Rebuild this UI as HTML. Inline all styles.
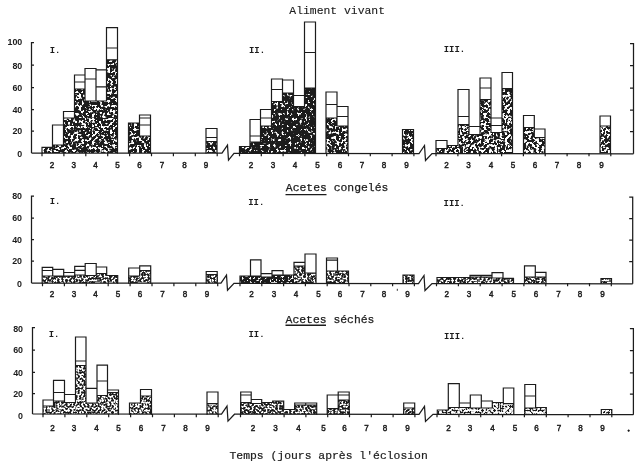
<!DOCTYPE html>
<html lang="fr"><head><meta charset="utf-8"><title>Figure</title>
<style>
html,body{margin:0;padding:0;background:#fff}
body{width:640px;height:467px;overflow:hidden}
svg{display:block}
</style></head><body>
<svg width="640" height="467" viewBox="0 0 640 467">
<defs>
<filter id="f14" filterUnits="userSpaceOnUse" x="0" y="0" width="640" height="467" color-interpolation-filters="sRGB">
<feTurbulence type="fractalNoise" baseFrequency="0.38" numOctaves="2" seed="4"/>
<feColorMatrix type="matrix" values="0 0 0 0 1 0 0 0 0 1 0 0 0 0 1 12 0 0 0 -7.05"/>
<feComposite in2="SourceGraphic" operator="in"/>
</filter>
<filter id="f22" filterUnits="userSpaceOnUse" x="0" y="0" width="640" height="467" color-interpolation-filters="sRGB">
<feTurbulence type="fractalNoise" baseFrequency="0.5" numOctaves="2" seed="5"/>
<feColorMatrix type="matrix" values="0 0 0 0 1 0 0 0 0 1 0 0 0 0 1 12 0 0 0 -6.6"/>
<feComposite in2="SourceGraphic" operator="in"/>
</filter>
<filter id="f30" filterUnits="userSpaceOnUse" x="0" y="0" width="640" height="467" color-interpolation-filters="sRGB">
<feTurbulence type="fractalNoise" baseFrequency="0.38" numOctaves="2" seed="6"/>
<feColorMatrix type="matrix" values="0 0 0 0 1 0 0 0 0 1 0 0 0 0 1 12 0 0 0 -6.3"/>
<feComposite in2="SourceGraphic" operator="in"/>
</filter>
<filter id="f33" filterUnits="userSpaceOnUse" x="0" y="0" width="640" height="467" color-interpolation-filters="sRGB">
<feTurbulence type="fractalNoise" baseFrequency="0.38" numOctaves="2" seed="7"/>
<feColorMatrix type="matrix" values="0 0 0 0 1 0 0 0 0 1 0 0 0 0 1 12 0 0 0 -6.15"/>
<feComposite in2="SourceGraphic" operator="in"/>
</filter>
<filter id="f40" filterUnits="userSpaceOnUse" x="0" y="0" width="640" height="467" color-interpolation-filters="sRGB">
<feTurbulence type="fractalNoise" baseFrequency="0.38" numOctaves="2" seed="8"/>
<feColorMatrix type="matrix" values="0 0 0 0 1 0 0 0 0 1 0 0 0 0 1 12 0 0 0 -5.9"/>
<feComposite in2="SourceGraphic" operator="in"/>
</filter>
<filter id="f45" filterUnits="userSpaceOnUse" x="0" y="0" width="640" height="467" color-interpolation-filters="sRGB">
<feTurbulence type="fractalNoise" baseFrequency="0.5" numOctaves="2" seed="9"/>
<feColorMatrix type="matrix" values="0 0 0 0 1 0 0 0 0 1 0 0 0 0 1 12 0 0 0 -5.7"/>
<feComposite in2="SourceGraphic" operator="in"/>
</filter>
<filter id="f50" filterUnits="userSpaceOnUse" x="0" y="0" width="640" height="467" color-interpolation-filters="sRGB">
<feTurbulence type="fractalNoise" baseFrequency="0.5" numOctaves="2" seed="10"/>
<feColorMatrix type="matrix" values="0 0 0 0 1 0 0 0 0 1 0 0 0 0 1 12 0 0 0 -5.52"/>
<feComposite in2="SourceGraphic" operator="in"/>
</filter>
<filter id="f60" filterUnits="userSpaceOnUse" x="0" y="0" width="640" height="467" color-interpolation-filters="sRGB">
<feTurbulence type="fractalNoise" baseFrequency="0.5" numOctaves="2" seed="11"/>
<feColorMatrix type="matrix" values="0 0 0 0 1 0 0 0 0 1 0 0 0 0 1 12 0 0 0 -5.2"/>
<feComposite in2="SourceGraphic" operator="in"/>
</filter>

<filter id="soft" filterUnits="userSpaceOnUse" x="0" y="0" width="640" height="467" color-interpolation-filters="sRGB"><feGaussianBlur stdDeviation="0.45"/></filter>
</defs>
<rect width="640" height="467" fill="#fff"/>
<g filter="url(#soft)">
<g fill="#1c1c1c"><rect x="42" y="147.3" width="11" height="5.7"/><rect x="52" y="145.0" width="12" height="8.0"/><rect x="63" y="118.0" width="12" height="35.0"/><rect x="74" y="89.0" width="11" height="64.0"/><rect x="85" y="101.0" width="11" height="52.0"/><rect x="96" y="101.0" width="11" height="52.0"/><rect x="106" y="59.8" width="12" height="93.2"/><rect x="128" y="123.0" width="12" height="30.0"/><rect x="139" y="136.0" width="12" height="17.0"/><rect x="206" y="141.5" width="11" height="11.5"/><rect x="326" y="118.0" width="11" height="35.0"/><rect x="337" y="126.0" width="11" height="27.0"/><rect x="402" y="129.5" width="12" height="23.5"/><rect x="239" y="146.5" width="11" height="6.5"/><rect x="250" y="142.0" width="11" height="11.0"/><rect x="260" y="126.0" width="12" height="27.0"/><rect x="271" y="101.5" width="12" height="51.5"/><rect x="282" y="93.0" width="12" height="60.0"/><rect x="293" y="106.5" width="12" height="46.5"/><rect x="304" y="88.0" width="12" height="65.0"/><rect x="436" y="148.5" width="11" height="4.5"/><rect x="447" y="145.5" width="11" height="7.5"/><rect x="458" y="124.5" width="11" height="28.5"/><rect x="469" y="134.5" width="11" height="18.5"/><rect x="480" y="99.5" width="11" height="53.5"/><rect x="491" y="132.5" width="11" height="20.5"/><rect x="502" y="88.5" width="11" height="64.5"/><rect x="523" y="127.5" width="12" height="25.5"/><rect x="534" y="137.5" width="11" height="15.5"/><rect x="600" y="126.0" width="11" height="27.0"/></g>
<g fill="#fff" filter="url(#f30)"><rect x="42" y="147.3" width="11" height="5.7"/><rect x="52" y="145.0" width="12" height="8.0"/><rect x="63" y="118.0" width="12" height="35.0"/><rect x="74" y="89.0" width="11" height="64.0"/><rect x="85" y="101.0" width="11" height="52.0"/><rect x="96" y="101.0" width="11" height="52.0"/><rect x="106" y="59.8" width="12" height="93.2"/><rect x="128" y="123.0" width="12" height="30.0"/><rect x="139" y="136.0" width="12" height="17.0"/><rect x="206" y="141.5" width="11" height="11.5"/><rect x="326" y="118.0" width="11" height="35.0"/><rect x="337" y="126.0" width="11" height="27.0"/><rect x="402" y="129.5" width="12" height="23.5"/></g>
<g fill="#fff" filter="url(#f14)"><rect x="239" y="146.5" width="11" height="6.5"/><rect x="250" y="142.0" width="11" height="11.0"/><rect x="260" y="126.0" width="12" height="27.0"/><rect x="271" y="101.5" width="12" height="51.5"/><rect x="282" y="93.0" width="12" height="60.0"/><rect x="293" y="106.5" width="12" height="46.5"/><rect x="304" y="88.0" width="12" height="65.0"/></g>
<g fill="#fff" filter="url(#f40)"><rect x="436" y="148.5" width="11" height="4.5"/><rect x="447" y="145.5" width="11" height="7.5"/><rect x="458" y="124.5" width="11" height="28.5"/><rect x="469" y="134.5" width="11" height="18.5"/><rect x="480" y="99.5" width="11" height="53.5"/><rect x="491" y="132.5" width="11" height="20.5"/><rect x="502" y="88.5" width="11" height="64.5"/><rect x="523" y="127.5" width="12" height="25.5"/><rect x="534" y="137.5" width="11" height="15.5"/><rect x="600" y="126.0" width="11" height="27.0"/></g>
<path d="M42.0 147.3H52.5M42.0 147.3V153M52.5 125.0H63.5M52.5 145.0H63.5M52.5 125.0V147.3M63.5 111.5H74.5M63.5 118.0H74.5M63.5 111.5V145.0M74.5 75.0H85.0M74.5 89.0H85.0M74.5 82.0H85.0M74.5 75.0V118.0M85.0 68.5H96.0M85.0 101.0H96.0M85.0 79.0H96.0M85.0 68.5V101.0M96.0 69.8H106.5M96.0 101.0H106.5M96.0 86.8H106.5M96.0 68.5V101.0M106.5 27.7H117.5M106.5 59.8H117.5M106.5 48.0H117.5M106.5 27.7V101.0M117.5 27.7V153M128.5 123.0H139.5M128.5 123.0V153M139.5 115.0H150.5M139.5 136.0H150.5M139.5 125.0H150.5M139.5 118.0H150.5M139.5 115.0V136.0M150.5 115.0V153M206.0 128.5H217.0M206.0 141.5H217.0M206.0 137.5H217.0M206.0 128.5V153M217.0 128.5V153M239.5 146.5H250.0M239.5 146.5V153M250.0 119.5H260.5M250.0 142.0H260.5M250.0 136.0H260.5M250.0 119.5V146.5M260.5 109.5H271.5M260.5 126.0H271.5M260.5 118.0H271.5M260.5 109.5V142.0M271.5 79.0H282.5M271.5 101.5H282.5M271.5 89.5H282.5M271.5 79.0V126.0M282.5 80.0H293.5M282.5 93.0H293.5M282.5 79.0V101.5M293.5 95.5H304.5M293.5 106.5H304.5M293.5 80.0V106.5M304.5 22.0H315.5M304.5 88.0H315.5M304.5 52.5H315.5M304.5 22.0V106.5M315.5 22.0V153M326.0 92.0H337.0M326.0 118.0H337.0M326.0 104.5H337.0M326.0 92.0V153M337.0 106.5H348.0M337.0 126.0H348.0M337.0 116.5H348.0M337.0 92.0V126.0M348.0 106.5V153M402.5 129.5H413.5M402.5 129.5V153M413.5 129.5V153M436.0 140.5H447.0M436.0 148.5H447.0M436.0 140.5V153M447.0 145.5H458.0M447.0 140.5V148.5M458.0 89.5H469.0M458.0 124.5H469.0M458.0 116.5H469.0M458.0 89.5V145.5M469.0 126.5H480.0M469.0 134.5H480.0M469.0 89.5V134.5M480.0 78.0H491.0M480.0 99.5H491.0M480.0 88.0H491.0M480.0 78.0V134.5M491.0 118.0H502.0M491.0 132.5H502.0M491.0 125.5H502.0M491.0 78.0V132.5M502.0 72.5H512.5M502.0 88.5H512.5M502.0 72.5V132.5M512.5 72.5V153M523.5 115.5H534.3M523.5 127.5H534.3M523.5 115.5V153M534.3 129.0H545.0M534.3 137.5H545.0M534.3 115.5V137.5M545.0 129.0V153M600.0 116.0H610.5M600.0 126.0H610.5M600.0 116.0V153M610.5 116.0V153" fill="none" stroke="#1c1c1c" stroke-width="1.2" stroke-linecap="square"/>
<g fill="#1c1c1c"><rect x="42" y="276.0" width="11" height="7.2"/><rect x="52" y="276.0" width="12" height="7.2"/><rect x="63" y="276.0" width="12" height="7.2"/><rect x="74" y="275.0" width="12" height="8.2"/><rect x="85" y="275.5" width="12" height="7.7"/><rect x="96" y="273.5" width="11" height="9.7"/><rect x="106" y="275.5" width="12" height="7.7"/><rect x="128" y="276.0" width="12" height="7.2"/><rect x="139" y="270.5" width="12" height="12.7"/><rect x="206" y="274.5" width="12" height="8.7"/><rect x="294" y="266.0" width="11" height="17.2"/><rect x="305" y="273.0" width="11" height="10.2"/><rect x="326" y="271.0" width="12" height="12.2"/><rect x="337" y="271.0" width="12" height="12.2"/><rect x="403" y="275.0" width="11" height="8.2"/><rect x="437" y="277.5" width="11" height="5.7"/><rect x="448" y="277.5" width="11" height="5.7"/><rect x="459" y="277.5" width="11" height="5.7"/><rect x="470" y="277.0" width="11" height="6.2"/><rect x="481" y="277.0" width="11" height="6.2"/><rect x="492" y="278.0" width="11" height="5.2"/><rect x="503" y="278.4" width="11" height="4.8"/><rect x="524" y="277.0" width="12" height="6.2"/><rect x="535" y="277.0" width="11" height="6.2"/><rect x="601" y="278.5" width="11" height="4.7"/><rect x="240" y="276.0" width="11" height="7.2"/><rect x="250" y="276.0" width="11" height="7.2"/><rect x="261" y="277.0" width="11" height="6.2"/><rect x="272" y="275.0" width="11" height="8.2"/><rect x="283" y="275.0" width="11" height="8.2"/></g>
<g fill="#fff" filter="url(#f45)"><rect x="42" y="276.0" width="11" height="7.2"/><rect x="52" y="276.0" width="12" height="7.2"/><rect x="63" y="276.0" width="12" height="7.2"/><rect x="74" y="275.0" width="12" height="8.2"/><rect x="85" y="275.5" width="12" height="7.7"/><rect x="96" y="273.5" width="11" height="9.7"/><rect x="106" y="275.5" width="12" height="7.7"/><rect x="128" y="276.0" width="12" height="7.2"/><rect x="139" y="270.5" width="12" height="12.7"/><rect x="206" y="274.5" width="12" height="8.7"/><rect x="294" y="266.0" width="11" height="17.2"/><rect x="305" y="273.0" width="11" height="10.2"/><rect x="326" y="271.0" width="12" height="12.2"/><rect x="337" y="271.0" width="12" height="12.2"/><rect x="403" y="275.0" width="11" height="8.2"/><rect x="437" y="277.5" width="11" height="5.7"/><rect x="448" y="277.5" width="11" height="5.7"/><rect x="459" y="277.5" width="11" height="5.7"/><rect x="470" y="277.0" width="11" height="6.2"/><rect x="481" y="277.0" width="11" height="6.2"/><rect x="492" y="278.0" width="11" height="5.2"/><rect x="503" y="278.4" width="11" height="4.8"/><rect x="524" y="277.0" width="12" height="6.2"/><rect x="535" y="277.0" width="11" height="6.2"/><rect x="601" y="278.5" width="11" height="4.7"/></g>
<g fill="#fff" filter="url(#f22)"><rect x="240" y="276.0" width="11" height="7.2"/><rect x="250" y="276.0" width="11" height="7.2"/><rect x="261" y="277.0" width="11" height="6.2"/><rect x="272" y="275.0" width="11" height="8.2"/><rect x="283" y="275.0" width="11" height="8.2"/></g>
<path d="M42.2 267.3H52.7M42.2 276.0H52.7M42.2 270.5H52.7M42.2 267.3V283.2M52.7 269.3H63.7M52.7 276.0H63.7M52.7 267.3V276.0M63.7 272.5H74.7M63.7 276.0H74.7M63.7 269.3V276.0M74.7 266.3H85.2M74.7 275.0H85.2M74.7 270.3H85.2M74.7 266.3V276.0M85.2 263.5H96.2M85.2 275.5H96.2M85.2 263.5V275.5M96.2 267.0H106.7M96.2 273.5H106.7M96.2 263.5V275.5M106.7 275.5H117.7M106.7 267.0V275.5M117.7 275.5V283.2M128.7 268.0H139.7M128.7 276.0H139.7M128.7 268.0V283.2M139.7 265.8H150.7M139.7 270.5H150.7M139.7 265.8V276.0M150.7 265.8V283.2M206.2 271.5H217.2M206.2 274.5H217.2M206.2 271.5V283.2M217.2 271.5V283.2M240.0 276.0H250.5M240.0 276.0V283.2M250.5 259.8H261.0M250.5 276.0H261.0M250.5 259.8V276.0M261.0 273.7H272.0M261.0 277.0H272.0M261.0 259.8V277.0M272.0 270.7H283.0M272.0 275.0H283.0M272.0 270.7V277.0M283.0 275.0H294.0M283.0 270.7V275.0M294.0 262.3H305.0M294.0 266.0H305.0M294.0 262.3V275.0M305.0 254.0H316.0M305.0 273.0H316.0M305.0 254.0V273.0M316.0 254.0V283.2M326.5 258.0H337.5M326.5 271.0H337.5M326.5 260.2H337.5M326.5 258.0V283.2M337.5 271.0H348.5M337.5 258.0V271.0M348.5 271.0V283.2M403.0 275.0H414.0M403.0 275.0V283.2M414.0 275.0V283.2M437.0 277.5H448.0M437.0 277.5V283.2M448.0 277.5H459.0M448.0 277.5V277.5M459.0 277.5H470.0M459.0 277.5V277.5M470.0 275.4H481.0M470.0 277.0H481.0M470.0 275.4V277.5M481.0 275.4H492.0M481.0 277.0H492.0M481.0 275.4V277.0M492.0 272.7H503.0M492.0 278.0H503.0M492.0 272.7V278.0M503.0 278.4H513.5M503.0 272.7V278.4M513.5 278.4V283.2M524.5 265.8H535.3M524.5 277.0H535.3M524.5 265.8V283.2M535.3 272.3H546.0M535.3 277.0H546.0M535.3 265.8V277.0M546.0 272.3V283.2M601.0 278.5H611.5M601.0 278.5V283.2M611.5 278.5V283.2" fill="none" stroke="#1c1c1c" stroke-width="1.2" stroke-linecap="square"/>
<g fill="#1c1c1c"><rect x="43" y="406.0" width="11" height="8.2"/><rect x="53" y="401.0" width="12" height="13.2"/><rect x="64" y="402.5" width="12" height="11.7"/><rect x="75" y="365.5" width="11" height="48.7"/><rect x="86" y="403.0" width="11" height="11.2"/><rect x="97" y="395.5" width="11" height="18.7"/><rect x="107" y="392.5" width="12" height="21.7"/><rect x="129" y="403.0" width="12" height="11.2"/><rect x="140" y="396.0" width="12" height="18.2"/><rect x="207" y="403.7" width="11" height="10.5"/><rect x="240" y="402.5" width="12" height="11.7"/><rect x="251" y="403.5" width="11" height="10.7"/><rect x="261" y="402.5" width="12" height="11.7"/><rect x="272" y="401.0" width="12" height="13.2"/><rect x="283" y="409.5" width="12" height="4.7"/><rect x="294" y="405.0" width="12" height="9.2"/><rect x="305" y="405.0" width="12" height="9.2"/><rect x="327" y="408.7" width="12" height="5.5"/><rect x="338" y="400.0" width="12" height="14.2"/><rect x="403" y="408.0" width="12" height="6.2"/><rect x="437" y="410.0" width="12" height="4.2"/><rect x="448" y="407.5" width="12" height="6.7"/><rect x="459" y="407.5" width="12" height="6.7"/><rect x="470" y="408.0" width="12" height="6.2"/><rect x="481" y="408.0" width="12" height="6.2"/><rect x="492" y="402.5" width="12" height="11.7"/><rect x="503" y="403.7" width="11" height="10.5"/><rect x="524" y="408.0" width="12" height="6.2"/><rect x="535" y="407.5" width="12" height="6.7"/><rect x="601" y="409.5" width="11" height="4.7"/></g>
<g fill="#fff" filter="url(#f50)"><rect x="43" y="406.0" width="11" height="8.2"/><rect x="53" y="401.0" width="12" height="13.2"/><rect x="64" y="402.5" width="12" height="11.7"/><rect x="75" y="365.5" width="11" height="48.7"/><rect x="86" y="403.0" width="11" height="11.2"/><rect x="97" y="395.5" width="11" height="18.7"/><rect x="107" y="392.5" width="12" height="21.7"/><rect x="129" y="403.0" width="12" height="11.2"/><rect x="140" y="396.0" width="12" height="18.2"/><rect x="207" y="403.7" width="11" height="10.5"/></g>
<g fill="#fff" filter="url(#f45)"><rect x="240" y="402.5" width="12" height="11.7"/><rect x="251" y="403.5" width="11" height="10.7"/><rect x="261" y="402.5" width="12" height="11.7"/><rect x="272" y="401.0" width="12" height="13.2"/><rect x="283" y="409.5" width="12" height="4.7"/><rect x="294" y="405.0" width="12" height="9.2"/><rect x="305" y="405.0" width="12" height="9.2"/><rect x="327" y="408.7" width="12" height="5.5"/><rect x="338" y="400.0" width="12" height="14.2"/><rect x="403" y="408.0" width="12" height="6.2"/></g>
<g fill="#fff" filter="url(#f60)"><rect x="437" y="410.0" width="12" height="4.2"/><rect x="448" y="407.5" width="12" height="6.7"/><rect x="459" y="407.5" width="12" height="6.7"/><rect x="470" y="408.0" width="12" height="6.2"/><rect x="481" y="408.0" width="12" height="6.2"/><rect x="492" y="402.5" width="12" height="11.7"/><rect x="503" y="403.7" width="11" height="10.5"/><rect x="524" y="408.0" width="12" height="6.2"/><rect x="535" y="407.5" width="12" height="6.7"/><rect x="601" y="409.5" width="11" height="4.7"/></g>
<path d="M43.0 400.0H53.5M43.0 406.0H53.5M43.0 400.0V414.2M53.5 380.3H64.5M53.5 401.0H64.5M53.5 392.5H64.5M53.5 380.3V406.0M64.5 394.5H75.5M64.5 402.5H75.5M64.5 380.3V402.5M75.5 337.0H86.0M75.5 365.5H86.0M75.5 361.0H86.0M75.5 337.0V402.5M86.0 388.3H97.0M86.0 403.0H97.0M86.0 337.0V403.0M97.0 365.2H107.5M97.0 395.5H107.5M97.0 381.0H107.5M97.0 365.2V403.0M107.5 390.0H118.5M107.5 392.5H118.5M107.5 365.2V395.5M118.5 390.0V414.2M129.5 403.0H140.5M129.5 403.0V414.2M140.5 389.5H151.5M140.5 396.0H151.5M140.5 389.5V403.0M151.5 389.5V414.2M207.0 392.0H218.0M207.0 403.7H218.0M207.0 392.0V414.2M218.0 392.0V414.2M240.7 392.0H251.2M240.7 402.5H251.2M240.7 395.0H251.2M240.7 392.0V414.2M251.2 399.5H261.7M251.2 403.5H261.7M251.2 392.0V403.5M261.7 402.5H272.7M261.7 399.5V403.5M272.7 401.0H283.7M272.7 401.0V402.5M283.7 409.5H294.7M283.7 401.0V409.5M294.7 403.0H305.7M294.7 405.0H305.7M294.7 403.0V409.5M305.7 403.0H316.7M305.7 405.0H316.7M305.7 403.0V405.0M316.7 403.0V414.2M327.2 395.0H338.2M327.2 408.7H338.2M327.2 395.0V414.2M338.2 392.0H349.2M338.2 400.0H349.2M338.2 395.0H349.2M338.2 392.0V408.7M349.2 392.0V414.2M403.7 403.0H414.7M403.7 408.0H414.7M403.7 403.0V414.2M414.7 403.0V414.2M437.3 410.0H448.3M437.3 410.0V414.2M448.3 383.7H459.3M448.3 407.5H459.3M448.3 383.7V410.0M459.3 403.0H470.3M459.3 407.5H470.3M459.3 383.7V407.5M470.3 395.0H481.3M470.3 408.0H481.3M470.3 395.0V408.0M481.3 401.0H492.3M481.3 408.0H492.3M481.3 395.0V408.0M492.3 402.5H503.3M492.3 401.0V408.0M503.3 388.0H513.8M503.3 403.7H513.8M503.3 388.0V403.7M513.8 388.0V414.2M524.8 384.5H535.6M524.8 408.0H535.6M524.8 396.0H535.6M524.8 384.5V414.2M535.6 407.5H546.3M535.6 384.5V408.0M546.3 407.5V414.2M601.3 409.5H611.8M601.3 409.5V414.2M611.8 409.5V414.2" fill="none" stroke="#1c1c1c" stroke-width="1.2" stroke-linecap="square"/>
<path fill="none" stroke="#1c1c1c" stroke-width="1.25" stroke-linejoin="miter" d="M34.0 42.5H31.5V153M31.5 65h2.5M31.5 87.5h2.5M31.5 109.5h2.5M31.5 131h2.5M630.0 43.5H633.5V153.8M633.5 65.5h-3.5M633.5 88.0h-3.5M633.5 110.0h-3.5M633.5 131.5h-3.5M31.5 153.0L222 153.2L227.5 145.2L228.5 160.2L234 153.3L238 153.3M238 153.3L419 153.5L424.5 145.5L425.5 160.5L432 153.5L436 153.5M436 153.5L633.5 153.8M34.0 196H31.5V283M31.5 218h2.5M31.5 239.5h2.5M31.5 261h2.5M629.2 197H632.7V283.8M632.7 218.5h-3.5M632.7 240.0h-3.5M632.7 261.5h-3.5M31.5 283.0L221 283.2L226.5 275.2L227.5 290.2L234 283.3L238 283.3M238 283.3L418.5 283.5L424.0 275.5L425.0 290.5L432 283.5L436 283.5M436 283.5L632.7 283.8M35.0 327.5H32.5V413.9M32.5 350h2.5M32.5 372.3h2.5M32.5 393.6h2.5M629.9 328.5H633.4V414.7M633.4 350.5h-3.5M633.4 372.8h-3.5M633.4 394.1h-3.5M32.5 413.9L221.5 414.1L227.0 406.1L228.0 421.1L234.5 414.2L238.5 414.2M238.5 414.2L419 414.4L424.5 406.4L425.5 421.4L433 414.4L437 414.4M437 414.4L633.4 414.7"/>
<path fill="none" stroke="#1c1c1c" stroke-width="1.2" d="M42.0 153v3.3M63.9 153v3.3M85.8 153v3.3M107.7 153v3.3M129.6 153v3.3M151.5 153v3.3M173.4 153v3.3M195.3 153v3.3M217.2 153v3.3M239.5 153v3.3M261.3 153v3.3M283.1 153v3.3M304.9 153v3.3M326.7 153v3.3M348.5 153v3.3M370.3 153v3.3M392.1 153v3.3M413.9 153v3.3M436.0 153v3.3M457.9 153v3.3M479.7 153v3.3M501.6 153v3.3M523.4 153v3.3M545.2 153v3.3M567.1 153v3.3M589.0 153v3.3M610.8 153v3.3M42.5 283v3.3M64.4 283v3.3M86.3 283v3.3M108.2 283v3.3M130.1 283v3.3M152.0 283v3.3M173.9 283v3.3M195.8 283v3.3M217.7 283v3.3M240.0 283v3.3M261.8 283v3.3M283.6 283v3.3M305.4 283v3.3M327.2 283v3.3M349.0 283v3.3M370.8 283v3.3M392.6 283v3.3M414.4 283v3.3M436.5 283v3.3M458.4 283v3.3M480.2 283v3.3M502.1 283v3.3M523.9 283v3.3M545.8 283v3.3M567.6 283v3.3M589.5 283v3.3M611.3 283v3.3M43.0 414v3.3M64.9 414v3.3M86.8 414v3.3M108.7 414v3.3M130.6 414v3.3M152.5 414v3.3M174.4 414v3.3M196.3 414v3.3M218.2 414v3.3M240.5 414v3.3M262.3 414v3.3M284.1 414v3.3M305.9 414v3.3M327.7 414v3.3M349.5 414v3.3M371.3 414v3.3M393.1 414v3.3M414.9 414v3.3M437.0 414v3.3M458.9 414v3.3M480.7 414v3.3M502.6 414v3.3M524.4 414v3.3M546.3 414v3.3M568.1 414v3.3M590.0 414v3.3M611.8 414v3.3"/>
<path d="M285.5 194.6H326.5M285.5 325.2H326" stroke="#1c1c1c" stroke-width="1.4" fill="none"/>
<text x="289.3" y="14.2" font-family="'Liberation Mono','DejaVu Sans Mono',monospace" font-size="11.4" text-anchor="start" fill="#1c1c1c" stroke="#1c1c1c" stroke-width="0.12">Aliment vivant</text>
<text x="285.8" y="191.3" font-family="'Liberation Mono','DejaVu Sans Mono',monospace" font-size="11.4" text-anchor="start" fill="#1c1c1c" stroke="#1c1c1c" stroke-width="0.25">Acetes congelés</text>
<text x="285.6" y="323" font-family="'Liberation Mono','DejaVu Sans Mono',monospace" font-size="11.4" text-anchor="start" fill="#1c1c1c" stroke="#1c1c1c" stroke-width="0.25">Acetes séchés</text>
<text x="229.5" y="459" font-family="'Liberation Mono','DejaVu Sans Mono',monospace" font-size="11.4" text-anchor="start" fill="#1c1c1c" stroke="#1c1c1c" stroke-width="0.2">Temps (jours après l'éclosion</text>
<text x="22.3" y="45.2" font-family="'Liberation Sans','DejaVu Sans',sans-serif" font-size="8.9" text-anchor="end" fill="#1c1c1c" font-weight="bold">100</text>
<text x="22.3" y="68.5" font-family="'Liberation Sans','DejaVu Sans',sans-serif" font-size="8.9" text-anchor="end" fill="#1c1c1c" font-weight="bold">80</text>
<text x="22.3" y="90.7" font-family="'Liberation Sans','DejaVu Sans',sans-serif" font-size="8.9" text-anchor="end" fill="#1c1c1c" font-weight="bold">60</text>
<text x="22.3" y="112.7" font-family="'Liberation Sans','DejaVu Sans',sans-serif" font-size="8.9" text-anchor="end" fill="#1c1c1c" font-weight="bold">40</text>
<text x="22.3" y="134.3" font-family="'Liberation Sans','DejaVu Sans',sans-serif" font-size="8.9" text-anchor="end" fill="#1c1c1c" font-weight="bold">20</text>
<text x="22.3" y="157" font-family="'Liberation Sans','DejaVu Sans',sans-serif" font-size="8.9" text-anchor="end" fill="#1c1c1c" font-weight="bold">0</text>
<text x="22" y="199.2" font-family="'Liberation Sans','DejaVu Sans',sans-serif" font-size="8.9" text-anchor="end" fill="#1c1c1c" font-weight="bold">80</text>
<text x="22" y="221.2" font-family="'Liberation Sans','DejaVu Sans',sans-serif" font-size="8.9" text-anchor="end" fill="#1c1c1c" font-weight="bold">60</text>
<text x="22" y="242.7" font-family="'Liberation Sans','DejaVu Sans',sans-serif" font-size="8.9" text-anchor="end" fill="#1c1c1c" font-weight="bold">40</text>
<text x="22" y="264.2" font-family="'Liberation Sans','DejaVu Sans',sans-serif" font-size="8.9" text-anchor="end" fill="#1c1c1c" font-weight="bold">20</text>
<text x="22" y="286.5" font-family="'Liberation Sans','DejaVu Sans',sans-serif" font-size="8.9" text-anchor="end" fill="#1c1c1c" font-weight="bold">0</text>
<text x="23" y="332" font-family="'Liberation Sans','DejaVu Sans',sans-serif" font-size="8.9" text-anchor="end" fill="#1c1c1c" font-weight="bold">80</text>
<text x="23" y="353.3" font-family="'Liberation Sans','DejaVu Sans',sans-serif" font-size="8.9" text-anchor="end" fill="#1c1c1c" font-weight="bold">60</text>
<text x="23" y="375.7" font-family="'Liberation Sans','DejaVu Sans',sans-serif" font-size="8.9" text-anchor="end" fill="#1c1c1c" font-weight="bold">40</text>
<text x="23" y="397" font-family="'Liberation Sans','DejaVu Sans',sans-serif" font-size="8.9" text-anchor="end" fill="#1c1c1c" font-weight="bold">20</text>
<text x="23" y="418.7" font-family="'Liberation Sans','DejaVu Sans',sans-serif" font-size="8.9" text-anchor="end" fill="#1c1c1c" font-weight="bold">0</text>
<text transform="translate(52 168.3) scale(0.86 1)" font-family="'Liberation Sans','DejaVu Sans',sans-serif" font-size="9.4" text-anchor="middle" fill="#1c1c1c" stroke="#1c1c1c" stroke-width="0.5">2</text>
<text transform="translate(73.7 168.3) scale(0.86 1)" font-family="'Liberation Sans','DejaVu Sans',sans-serif" font-size="9.4" text-anchor="middle" fill="#1c1c1c" stroke="#1c1c1c" stroke-width="0.5">3</text>
<text transform="translate(95.5 168.3) scale(0.86 1)" font-family="'Liberation Sans','DejaVu Sans',sans-serif" font-size="9.4" text-anchor="middle" fill="#1c1c1c" stroke="#1c1c1c" stroke-width="0.5">4</text>
<text transform="translate(117.4 168.3) scale(0.86 1)" font-family="'Liberation Sans','DejaVu Sans',sans-serif" font-size="9.4" text-anchor="middle" fill="#1c1c1c" stroke="#1c1c1c" stroke-width="0.5">5</text>
<text transform="translate(139.5 168.3) scale(0.86 1)" font-family="'Liberation Sans','DejaVu Sans',sans-serif" font-size="9.4" text-anchor="middle" fill="#1c1c1c" stroke="#1c1c1c" stroke-width="0.5">6</text>
<text transform="translate(162 168.3) scale(0.86 1)" font-family="'Liberation Sans','DejaVu Sans',sans-serif" font-size="9.4" text-anchor="middle" fill="#1c1c1c" stroke="#1c1c1c" stroke-width="0.5">7</text>
<text transform="translate(184.5 168.3) scale(0.86 1)" font-family="'Liberation Sans','DejaVu Sans',sans-serif" font-size="9.4" text-anchor="middle" fill="#1c1c1c" stroke="#1c1c1c" stroke-width="0.5">8</text>
<text transform="translate(206 168.3) scale(0.86 1)" font-family="'Liberation Sans','DejaVu Sans',sans-serif" font-size="9.4" text-anchor="middle" fill="#1c1c1c" stroke="#1c1c1c" stroke-width="0.5">9</text>
<text transform="translate(251 168.3) scale(0.86 1)" font-family="'Liberation Sans','DejaVu Sans',sans-serif" font-size="9.4" text-anchor="middle" fill="#1c1c1c" stroke="#1c1c1c" stroke-width="0.5">2</text>
<text transform="translate(273 168.3) scale(0.86 1)" font-family="'Liberation Sans','DejaVu Sans',sans-serif" font-size="9.4" text-anchor="middle" fill="#1c1c1c" stroke="#1c1c1c" stroke-width="0.5">3</text>
<text transform="translate(295 168.3) scale(0.86 1)" font-family="'Liberation Sans','DejaVu Sans',sans-serif" font-size="9.4" text-anchor="middle" fill="#1c1c1c" stroke="#1c1c1c" stroke-width="0.5">4</text>
<text transform="translate(317.5 168.3) scale(0.86 1)" font-family="'Liberation Sans','DejaVu Sans',sans-serif" font-size="9.4" text-anchor="middle" fill="#1c1c1c" stroke="#1c1c1c" stroke-width="0.5">5</text>
<text transform="translate(340 168.3) scale(0.86 1)" font-family="'Liberation Sans','DejaVu Sans',sans-serif" font-size="9.4" text-anchor="middle" fill="#1c1c1c" stroke="#1c1c1c" stroke-width="0.5">6</text>
<text transform="translate(362 168.3) scale(0.86 1)" font-family="'Liberation Sans','DejaVu Sans',sans-serif" font-size="9.4" text-anchor="middle" fill="#1c1c1c" stroke="#1c1c1c" stroke-width="0.5">7</text>
<text transform="translate(384 168.3) scale(0.86 1)" font-family="'Liberation Sans','DejaVu Sans',sans-serif" font-size="9.4" text-anchor="middle" fill="#1c1c1c" stroke="#1c1c1c" stroke-width="0.5">8</text>
<text transform="translate(406.5 168.3) scale(0.86 1)" font-family="'Liberation Sans','DejaVu Sans',sans-serif" font-size="9.4" text-anchor="middle" fill="#1c1c1c" stroke="#1c1c1c" stroke-width="0.5">9</text>
<text transform="translate(446.5 168.3) scale(0.86 1)" font-family="'Liberation Sans','DejaVu Sans',sans-serif" font-size="9.4" text-anchor="middle" fill="#1c1c1c" stroke="#1c1c1c" stroke-width="0.5">2</text>
<text transform="translate(468.5 168.3) scale(0.86 1)" font-family="'Liberation Sans','DejaVu Sans',sans-serif" font-size="9.4" text-anchor="middle" fill="#1c1c1c" stroke="#1c1c1c" stroke-width="0.5">3</text>
<text transform="translate(491 168.3) scale(0.86 1)" font-family="'Liberation Sans','DejaVu Sans',sans-serif" font-size="9.4" text-anchor="middle" fill="#1c1c1c" stroke="#1c1c1c" stroke-width="0.5">4</text>
<text transform="translate(513 168.3) scale(0.86 1)" font-family="'Liberation Sans','DejaVu Sans',sans-serif" font-size="9.4" text-anchor="middle" fill="#1c1c1c" stroke="#1c1c1c" stroke-width="0.5">5</text>
<text transform="translate(535 168.3) scale(0.86 1)" font-family="'Liberation Sans','DejaVu Sans',sans-serif" font-size="9.4" text-anchor="middle" fill="#1c1c1c" stroke="#1c1c1c" stroke-width="0.5">6</text>
<text transform="translate(557 168.3) scale(0.86 1)" font-family="'Liberation Sans','DejaVu Sans',sans-serif" font-size="9.4" text-anchor="middle" fill="#1c1c1c" stroke="#1c1c1c" stroke-width="0.5">7</text>
<text transform="translate(579 168.3) scale(0.86 1)" font-family="'Liberation Sans','DejaVu Sans',sans-serif" font-size="9.4" text-anchor="middle" fill="#1c1c1c" stroke="#1c1c1c" stroke-width="0.5">8</text>
<text transform="translate(601.5 168.3) scale(0.86 1)" font-family="'Liberation Sans','DejaVu Sans',sans-serif" font-size="9.4" text-anchor="middle" fill="#1c1c1c" stroke="#1c1c1c" stroke-width="0.5">9</text>
<text transform="translate(52 296.9) scale(0.86 1)" font-family="'Liberation Sans','DejaVu Sans',sans-serif" font-size="9.4" text-anchor="middle" fill="#1c1c1c" stroke="#1c1c1c" stroke-width="0.5">2</text>
<text transform="translate(74 296.9) scale(0.86 1)" font-family="'Liberation Sans','DejaVu Sans',sans-serif" font-size="9.4" text-anchor="middle" fill="#1c1c1c" stroke="#1c1c1c" stroke-width="0.5">3</text>
<text transform="translate(95.5 296.9) scale(0.86 1)" font-family="'Liberation Sans','DejaVu Sans',sans-serif" font-size="9.4" text-anchor="middle" fill="#1c1c1c" stroke="#1c1c1c" stroke-width="0.5">4</text>
<text transform="translate(118 296.9) scale(0.86 1)" font-family="'Liberation Sans','DejaVu Sans',sans-serif" font-size="9.4" text-anchor="middle" fill="#1c1c1c" stroke="#1c1c1c" stroke-width="0.5">5</text>
<text transform="translate(140 296.9) scale(0.86 1)" font-family="'Liberation Sans','DejaVu Sans',sans-serif" font-size="9.4" text-anchor="middle" fill="#1c1c1c" stroke="#1c1c1c" stroke-width="0.5">6</text>
<text transform="translate(162.5 296.9) scale(0.86 1)" font-family="'Liberation Sans','DejaVu Sans',sans-serif" font-size="9.4" text-anchor="middle" fill="#1c1c1c" stroke="#1c1c1c" stroke-width="0.5">7</text>
<text transform="translate(185 296.9) scale(0.86 1)" font-family="'Liberation Sans','DejaVu Sans',sans-serif" font-size="9.4" text-anchor="middle" fill="#1c1c1c" stroke="#1c1c1c" stroke-width="0.5">8</text>
<text transform="translate(207 296.9) scale(0.86 1)" font-family="'Liberation Sans','DejaVu Sans',sans-serif" font-size="9.4" text-anchor="middle" fill="#1c1c1c" stroke="#1c1c1c" stroke-width="0.5">9</text>
<text transform="translate(251.5 296.9) scale(0.86 1)" font-family="'Liberation Sans','DejaVu Sans',sans-serif" font-size="9.4" text-anchor="middle" fill="#1c1c1c" stroke="#1c1c1c" stroke-width="0.5">2</text>
<text transform="translate(274 296.9) scale(0.86 1)" font-family="'Liberation Sans','DejaVu Sans',sans-serif" font-size="9.4" text-anchor="middle" fill="#1c1c1c" stroke="#1c1c1c" stroke-width="0.5">3</text>
<text transform="translate(296 296.9) scale(0.86 1)" font-family="'Liberation Sans','DejaVu Sans',sans-serif" font-size="9.4" text-anchor="middle" fill="#1c1c1c" stroke="#1c1c1c" stroke-width="0.5">4</text>
<text transform="translate(318.5 296.9) scale(0.86 1)" font-family="'Liberation Sans','DejaVu Sans',sans-serif" font-size="9.4" text-anchor="middle" fill="#1c1c1c" stroke="#1c1c1c" stroke-width="0.5">5</text>
<text transform="translate(340 296.9) scale(0.86 1)" font-family="'Liberation Sans','DejaVu Sans',sans-serif" font-size="9.4" text-anchor="middle" fill="#1c1c1c" stroke="#1c1c1c" stroke-width="0.5">6</text>
<text transform="translate(362.5 296.9) scale(0.86 1)" font-family="'Liberation Sans','DejaVu Sans',sans-serif" font-size="9.4" text-anchor="middle" fill="#1c1c1c" stroke="#1c1c1c" stroke-width="0.5">7</text>
<text transform="translate(384 296.9) scale(0.86 1)" font-family="'Liberation Sans','DejaVu Sans',sans-serif" font-size="9.4" text-anchor="middle" fill="#1c1c1c" stroke="#1c1c1c" stroke-width="0.5">8</text>
<text transform="translate(407.5 296.9) scale(0.86 1)" font-family="'Liberation Sans','DejaVu Sans',sans-serif" font-size="9.4" text-anchor="middle" fill="#1c1c1c" stroke="#1c1c1c" stroke-width="0.5">9</text>
<text transform="translate(446.7 296.9) scale(0.86 1)" font-family="'Liberation Sans','DejaVu Sans',sans-serif" font-size="9.4" text-anchor="middle" fill="#1c1c1c" stroke="#1c1c1c" stroke-width="0.5">2</text>
<text transform="translate(469 296.9) scale(0.86 1)" font-family="'Liberation Sans','DejaVu Sans',sans-serif" font-size="9.4" text-anchor="middle" fill="#1c1c1c" stroke="#1c1c1c" stroke-width="0.5">3</text>
<text transform="translate(491.3 296.9) scale(0.86 1)" font-family="'Liberation Sans','DejaVu Sans',sans-serif" font-size="9.4" text-anchor="middle" fill="#1c1c1c" stroke="#1c1c1c" stroke-width="0.5">4</text>
<text transform="translate(513.7 296.9) scale(0.86 1)" font-family="'Liberation Sans','DejaVu Sans',sans-serif" font-size="9.4" text-anchor="middle" fill="#1c1c1c" stroke="#1c1c1c" stroke-width="0.5">5</text>
<text transform="translate(536 296.9) scale(0.86 1)" font-family="'Liberation Sans','DejaVu Sans',sans-serif" font-size="9.4" text-anchor="middle" fill="#1c1c1c" stroke="#1c1c1c" stroke-width="0.5">6</text>
<text transform="translate(558.5 296.9) scale(0.86 1)" font-family="'Liberation Sans','DejaVu Sans',sans-serif" font-size="9.4" text-anchor="middle" fill="#1c1c1c" stroke="#1c1c1c" stroke-width="0.5">7</text>
<text transform="translate(580 296.9) scale(0.86 1)" font-family="'Liberation Sans','DejaVu Sans',sans-serif" font-size="9.4" text-anchor="middle" fill="#1c1c1c" stroke="#1c1c1c" stroke-width="0.5">8</text>
<text transform="translate(602.5 296.9) scale(0.86 1)" font-family="'Liberation Sans','DejaVu Sans',sans-serif" font-size="9.4" text-anchor="middle" fill="#1c1c1c" stroke="#1c1c1c" stroke-width="0.5">9</text>
<text transform="translate(52.5 430.7) scale(0.86 1)" font-family="'Liberation Sans','DejaVu Sans',sans-serif" font-size="9.4" text-anchor="middle" fill="#1c1c1c" stroke="#1c1c1c" stroke-width="0.5">2</text>
<text transform="translate(74 430.7) scale(0.86 1)" font-family="'Liberation Sans','DejaVu Sans',sans-serif" font-size="9.4" text-anchor="middle" fill="#1c1c1c" stroke="#1c1c1c" stroke-width="0.5">3</text>
<text transform="translate(96.5 430.7) scale(0.86 1)" font-family="'Liberation Sans','DejaVu Sans',sans-serif" font-size="9.4" text-anchor="middle" fill="#1c1c1c" stroke="#1c1c1c" stroke-width="0.5">4</text>
<text transform="translate(118.5 430.7) scale(0.86 1)" font-family="'Liberation Sans','DejaVu Sans',sans-serif" font-size="9.4" text-anchor="middle" fill="#1c1c1c" stroke="#1c1c1c" stroke-width="0.5">5</text>
<text transform="translate(141 430.7) scale(0.86 1)" font-family="'Liberation Sans','DejaVu Sans',sans-serif" font-size="9.4" text-anchor="middle" fill="#1c1c1c" stroke="#1c1c1c" stroke-width="0.5">6</text>
<text transform="translate(163.5 430.7) scale(0.86 1)" font-family="'Liberation Sans','DejaVu Sans',sans-serif" font-size="9.4" text-anchor="middle" fill="#1c1c1c" stroke="#1c1c1c" stroke-width="0.5">7</text>
<text transform="translate(185.5 430.7) scale(0.86 1)" font-family="'Liberation Sans','DejaVu Sans',sans-serif" font-size="9.4" text-anchor="middle" fill="#1c1c1c" stroke="#1c1c1c" stroke-width="0.5">8</text>
<text transform="translate(207.5 430.7) scale(0.86 1)" font-family="'Liberation Sans','DejaVu Sans',sans-serif" font-size="9.4" text-anchor="middle" fill="#1c1c1c" stroke="#1c1c1c" stroke-width="0.5">9</text>
<text transform="translate(253 430.7) scale(0.86 1)" font-family="'Liberation Sans','DejaVu Sans',sans-serif" font-size="9.4" text-anchor="middle" fill="#1c1c1c" stroke="#1c1c1c" stroke-width="0.5">2</text>
<text transform="translate(275.5 430.7) scale(0.86 1)" font-family="'Liberation Sans','DejaVu Sans',sans-serif" font-size="9.4" text-anchor="middle" fill="#1c1c1c" stroke="#1c1c1c" stroke-width="0.5">3</text>
<text transform="translate(298.5 430.7) scale(0.86 1)" font-family="'Liberation Sans','DejaVu Sans',sans-serif" font-size="9.4" text-anchor="middle" fill="#1c1c1c" stroke="#1c1c1c" stroke-width="0.5">4</text>
<text transform="translate(323.5 430.7) scale(0.86 1)" font-family="'Liberation Sans','DejaVu Sans',sans-serif" font-size="9.4" text-anchor="middle" fill="#1c1c1c" stroke="#1c1c1c" stroke-width="0.5">5</text>
<text transform="translate(344.5 430.7) scale(0.86 1)" font-family="'Liberation Sans','DejaVu Sans',sans-serif" font-size="9.4" text-anchor="middle" fill="#1c1c1c" stroke="#1c1c1c" stroke-width="0.5">6</text>
<text transform="translate(366.5 430.7) scale(0.86 1)" font-family="'Liberation Sans','DejaVu Sans',sans-serif" font-size="9.4" text-anchor="middle" fill="#1c1c1c" stroke="#1c1c1c" stroke-width="0.5">7</text>
<text transform="translate(385 430.7) scale(0.86 1)" font-family="'Liberation Sans','DejaVu Sans',sans-serif" font-size="9.4" text-anchor="middle" fill="#1c1c1c" stroke="#1c1c1c" stroke-width="0.5">8</text>
<text transform="translate(407.5 430.7) scale(0.86 1)" font-family="'Liberation Sans','DejaVu Sans',sans-serif" font-size="9.4" text-anchor="middle" fill="#1c1c1c" stroke="#1c1c1c" stroke-width="0.5">9</text>
<text transform="translate(448.5 430.7) scale(0.86 1)" font-family="'Liberation Sans','DejaVu Sans',sans-serif" font-size="9.4" text-anchor="middle" fill="#1c1c1c" stroke="#1c1c1c" stroke-width="0.5">2</text>
<text transform="translate(470 430.7) scale(0.86 1)" font-family="'Liberation Sans','DejaVu Sans',sans-serif" font-size="9.4" text-anchor="middle" fill="#1c1c1c" stroke="#1c1c1c" stroke-width="0.5">3</text>
<text transform="translate(492.5 430.7) scale(0.86 1)" font-family="'Liberation Sans','DejaVu Sans',sans-serif" font-size="9.4" text-anchor="middle" fill="#1c1c1c" stroke="#1c1c1c" stroke-width="0.5">4</text>
<text transform="translate(515 430.7) scale(0.86 1)" font-family="'Liberation Sans','DejaVu Sans',sans-serif" font-size="9.4" text-anchor="middle" fill="#1c1c1c" stroke="#1c1c1c" stroke-width="0.5">5</text>
<text transform="translate(536.5 430.7) scale(0.86 1)" font-family="'Liberation Sans','DejaVu Sans',sans-serif" font-size="9.4" text-anchor="middle" fill="#1c1c1c" stroke="#1c1c1c" stroke-width="0.5">6</text>
<text transform="translate(559 430.7) scale(0.86 1)" font-family="'Liberation Sans','DejaVu Sans',sans-serif" font-size="9.4" text-anchor="middle" fill="#1c1c1c" stroke="#1c1c1c" stroke-width="0.5">7</text>
<text transform="translate(580.5 430.7) scale(0.86 1)" font-family="'Liberation Sans','DejaVu Sans',sans-serif" font-size="9.4" text-anchor="middle" fill="#1c1c1c" stroke="#1c1c1c" stroke-width="0.5">8</text>
<text transform="translate(602.5 430.7) scale(0.86 1)" font-family="'Liberation Sans','DejaVu Sans',sans-serif" font-size="9.4" text-anchor="middle" fill="#1c1c1c" stroke="#1c1c1c" stroke-width="0.5">9</text>
<text x="49.8" y="52.5" font-family="'Liberation Mono','DejaVu Sans Mono',monospace" font-size="8.9" text-anchor="start" fill="#1c1c1c" font-weight="bold">I.</text>
<text x="249" y="52.7" font-family="'Liberation Mono','DejaVu Sans Mono',monospace" font-size="8.9" text-anchor="start" fill="#1c1c1c" font-weight="bold">II.</text>
<text x="443.8" y="51.6" font-family="'Liberation Mono','DejaVu Sans Mono',monospace" font-size="8.9" text-anchor="start" fill="#1c1c1c" font-weight="bold">III.</text>
<text x="49.8" y="204.3" font-family="'Liberation Mono','DejaVu Sans Mono',monospace" font-size="8.9" text-anchor="start" fill="#1c1c1c" font-weight="bold">I.</text>
<text x="248.3" y="204.8" font-family="'Liberation Mono','DejaVu Sans Mono',monospace" font-size="8.9" text-anchor="start" fill="#1c1c1c" font-weight="bold">II.</text>
<text x="443.6" y="205.8" font-family="'Liberation Mono','DejaVu Sans Mono',monospace" font-size="8.9" text-anchor="start" fill="#1c1c1c" font-weight="bold">III.</text>
<text x="48.8" y="336.8" font-family="'Liberation Mono','DejaVu Sans Mono',monospace" font-size="8.9" text-anchor="start" fill="#1c1c1c" font-weight="bold">I.</text>
<text x="248.5" y="337.2" font-family="'Liberation Mono','DejaVu Sans Mono',monospace" font-size="8.9" text-anchor="start" fill="#1c1c1c" font-weight="bold">II.</text>
<text x="444" y="338.7" font-family="'Liberation Mono','DejaVu Sans Mono',monospace" font-size="8.9" text-anchor="start" fill="#1c1c1c" font-weight="bold">III.</text>
<path d="M397.3 288.8v2M628 430h1.2v1.2h-1.2z" stroke="#1c1c1c" stroke-width="0.9" fill="#1c1c1c"/>
</g>
</svg>
</body></html>
